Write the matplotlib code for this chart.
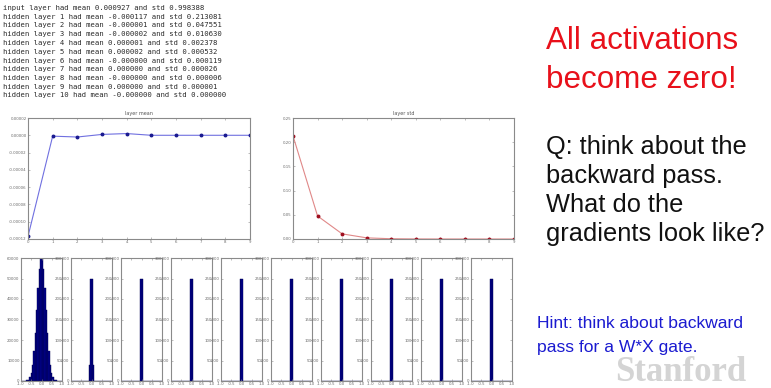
import numpy as np
import matplotlib
matplotlib.use("Agg")
import matplotlib.pyplot as plt
from matplotlib.ticker import FixedLocator, FuncFormatter

plt.rcParams['axes.unicode_minus'] = False

# ---------------- data ----------------
log_lines = [
    "input layer had mean 0.000927 and std 0.998388",
    "hidden layer 1 had mean -0.000117 and std 0.213081",
    "hidden layer 2 had mean -0.000001 and std 0.047551",
    "hidden layer 3 had mean -0.000002 and std 0.010630",
    "hidden layer 4 had mean 0.000001 and std 0.002378",
    "hidden layer 5 had mean 0.000002 and std 0.000532",
    "hidden layer 6 had mean -0.000000 and std 0.000119",
    "hidden layer 7 had mean 0.000000 and std 0.000026",
    "hidden layer 8 had mean -0.000000 and std 0.000006",
    "hidden layer 9 had mean 0.000000 and std 0.000001",
    "hidden layer 10 had mean -0.000000 and std 0.000000",
]

layer_idx = [0, 1, 2, 3, 4, 5, 6, 7, 8, 9]
layer_means = [-0.000117, -0.000001, -0.000002, 0.000001, 0.000002,
               0.000000, 0.000000, 0.000000, 0.000000, 0.000000]
layer_stds = [0.213081, 0.047551, 0.010630, 0.002378, 0.000532,
              0.000119, 0.000026, 0.000006, 0.000001, 0.000000]

mean_yticks = [-0.00012, -0.00010, -0.00008, -0.00006, -0.00004, -0.00002, 0.00000, 0.00002]
std_yticks = [0.00, 0.05, 0.10, 0.15, 0.20, 0.25]
hist_xticks = [-1.0, -0.5, 0.0, 0.5, 1.0]
hist1_yticks = [0, 10000, 20000, 30000, 40000, 50000, 60000]
hist_yticks = [0, 50000, 100000, 150000, 200000, 250000, 300000]

# histogram counts, 30 bins over [-1, 1]
hist_layer1 = [0, 5, 20, 80, 250, 700, 1800, 4000, 8000, 14500, 23500, 34500, 45500, 54500, 59500,
               59500, 54500, 45500, 34500, 23500, 14500, 8000, 4000, 1800, 700, 250, 80, 20, 5, 0]
hist_layer2 = [0] * 13 + [40000, 250000, 250000, 40000] + [0] * 13
hist_deep = [0] * 14 + [250000, 250000] + [0] * 14
hist_counts = [hist_layer1, hist_layer2] + [hist_deep] * 8

# ---------------- figure ----------------
W, H = 771, 388
fig = plt.figure(figsize=(W / 100, H / 100), dpi=100)
fig.patch.set_facecolor("white")


def ax_px(l, t, r, b):
    return fig.add_axes([l / W, 1 - b / H, (r - l) / W, (b - t) / H])


spine_col = "#8a8a8a"
tick_col = "#6a6a6a"
tick_fs = 2.8


def style(ax):
    for s in ax.spines.values():
        s.set_color(spine_col)
        s.set_linewidth(0.8)
    ax.tick_params(direction="in", length=1.5, width=0.4, colors=spine_col,
                   labelsize=tick_fs, labelcolor=tick_col, pad=1,
                   top=True, right=True)


# log text
for i, line in enumerate(log_lines):
    fig.text(3 / W, 1 - (10 + i * 8.75) / H, line, family="DejaVu Sans Mono",
             fontsize=5.25, color="#2a2a2a", va="baseline", ha="left")

# layer mean
ax1 = ax_px(28, 118, 250, 239)
ax1.plot(layer_idx, layer_means, color="#7070e0", lw=0.8, marker="o",
         markersize=1.8, markerfacecolor="#1a1a90", markeredgecolor="#1a1a90")
ax1.set_xlim(0, 9)
ax1.set_ylim(-0.00012, 0.00002)
ax1.yaxis.set_major_locator(FixedLocator(mean_yticks))
ax1.yaxis.set_major_formatter(FuncFormatter(lambda v, p: "%.5f" % v))
ax1.set_xticks(layer_idx)
ax1.set_title("layer mean", fontsize=3.5, color="#555555", pad=2)
style(ax1)

# layer std
ax2 = ax_px(293, 118, 514, 239)
ax2.plot(layer_idx, layer_stds, color="#e08888", lw=0.8, marker="o",
         markersize=1.8, markerfacecolor="#a01020", markeredgecolor="#a01020")
ax2.set_xlim(0, 9)
ax2.set_ylim(0, 0.25)
ax2.yaxis.set_major_locator(FixedLocator(std_yticks))
ax2.yaxis.set_major_formatter(FuncFormatter(lambda v, p: "%.2f" % v))
ax2.set_xticks(layer_idx)
ax2.set_title("layer std", fontsize=3.5, color="#555555", pad=2)
style(ax2)

# histograms
edges = np.linspace(-1, 1, 31)
centers = (edges[:-1] + edges[1:]) / 2
bw = edges[1] - edges[0]
for i, counts in enumerate(hist_counts):
    l = 21 + 50 * i
    ax = ax_px(l, 258, l + 41, 381)
    ax.bar(centers, counts, width=bw, color="#00008b", edgecolor="#000050", linewidth=0.3)
    ax.set_xlim(-1, 1)
    ax.set_xticks(hist_xticks)
    ax.xaxis.set_major_formatter(FuncFormatter(lambda v, p: "%.1f" % v))
    if i == 0:
        ax.set_ylim(0, 60000)
        ax.yaxis.set_major_locator(FixedLocator(hist1_yticks))
    else:
        ax.set_ylim(0, 300000)
        ax.yaxis.set_major_locator(FixedLocator(hist_yticks))
    ax.yaxis.set_major_formatter(FuncFormatter(lambda v, p: "%d" % v))
    style(ax)

# right-hand slide text
red = "#e8101a"
fig.text(546 / W, 1 - 49 / H, "All activations", color=red, fontsize=22.6,
         family="Liberation Sans", va="baseline")
fig.text(546 / W, 1 - 88 / H, "become zero!", color=red, fontsize=22.6,
         family="Liberation Sans", va="baseline")

blk_lines = ["Q: think about the", "backward pass.", "What do the", "gradients look like?"]
for i, s in enumerate(blk_lines):
    fig.text(546 / W, 1 - (154 + i * 29) / H, s, color="#111111", fontsize=18.3,
             family="Liberation Sans", va="baseline")

blue = "#1a1ad0"
fig.text(537 / W, 1 - 328 / H, "Hint: think about backward", color=blue, fontsize=12.6,
         family="Liberation Sans", va="baseline")
fig.text(537 / W, 1 - 352 / H, "pass for a W*X gate.", color=blue, fontsize=12.6,
         family="Liberation Sans", va="baseline")

fig.text(615 / W, 1 - 381 / H, "Stanford", color="#d4d4d4", fontsize=25,
         family="Liberation Serif", weight="bold", va="baseline")

fig.savefig("out.png", dpi=100, facecolor="white")
